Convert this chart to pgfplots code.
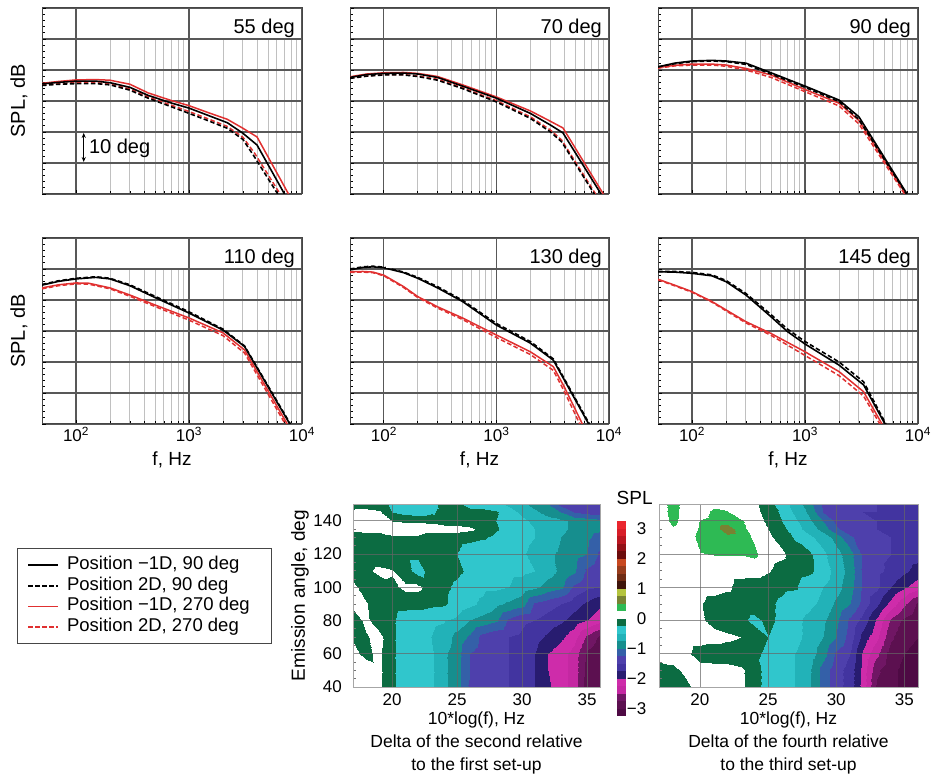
\documentclass[border=0pt]{standalone}
\usepackage{fontspec}
\setmainfont{Liberation Sans}
\usepackage{pgfplots}
\pgfplotsset{compat=1.18}
\usetikzlibrary{arrows.meta}

\definecolor{gridmajor}{RGB}{88,88,88}
\definecolor{gridminor}{RGB}{192,192,192}
\definecolor{framecol}{RGB}{70,70,70}
\definecolor{lred}{RGB}{224,48,48}

\newcommand\tickfont{\fontsize{17}{19}\selectfont}
\newcommand\labfont{\fontsize{19}{21}\selectfont}
\newcommand\ttlfont{\fontsize{20}{22}\selectfont}

% discrete SPL-difference colour scale: 26 bands of 0.25 dB from -3.25 to 3.25
\pgfplotsset{
  colormap={spl}{
    rgb255=(78,10,68) rgb255=(92,16,80) rgb255=(112,22,100) rgb255=(196,40,162)
    rgb255=(206,44,170) rgb255=(40,28,112) rgb255=(66,52,160) rgb255=(78,64,172)
    rgb255=(52,96,168) rgb255=(22,142,142) rgb255=(34,178,184) rgb255=(48,198,204)
    rgb255=(12,108,66) rgb255=(255,255,255) rgb255=(46,186,84) rgb255=(120,130,50)
    rgb255=(180,196,62) rgb255=(62,20,10) rgb255=(112,44,20) rgb255=(152,60,28)
    rgb255=(200,72,32) rgb255=(108,12,12) rgb255=(146,16,22) rgb255=(186,22,32)
    rgb255=(216,30,40) rgb255=(234,38,46)
  },
}

\pgfplotsset{
  bs/.style={black, line width=1.6pt, line join=round},
  bd/.style={black, line width=1.6pt, dash pattern=on 4.5pt off 2.5pt},
  rs/.style={lred, line width=1.5pt, line join=round},
  rd/.style={lred, line width=1.5pt, dash pattern=on 4.5pt off 2.5pt},
  splpanel/.style={
    scale only axis, width=260pt, height=186pt, anchor=north west,
    xmin=50, xmax=10000, ymin=0, ymax=60,
    xtick={100,1000,10000}, xticklabels={},
    ytick={0,10,...,60}, yticklabels={},
    minor y tick num=4,
    xmajorgrids=true, xminorgrids=true, ymajorgrids=true,
    major grid style={draw=gridmajor, line width=1.1pt},
    minor grid style={draw=gridminor, line width=0.9pt},
    axis line style={draw=framecol, line width=1pt},
    tick align=inside, tick pos=left,
    major tick length=4pt, minor tick length=3pt,
    tick style={draw=black, line width=0.8pt},
    tick label style={font=\tickfont},
    label style={font=\labfont},
  },
  freqlabels/.style={
    xticklabels={10\textsuperscript{2},10\textsuperscript{3},10\textsuperscript{4}},
    xticklabel style={inner sep=0pt, anchor=north, yshift=-3pt},
    xlabel={f, Hz},
    xlabel style={at={(axis description cs:0.5,-0.15)}, anchor=north, inner sep=0pt},
  },
  spllabel/.style={
    ylabel={SPL, dB},
    ylabel style={at={(axis description cs:-0.055,0.5)}, anchor=south, inner sep=0pt, font=\ttlfont},
  },
  contourpanel/.style={
    scale only axis, anchor=north west, height=183pt,
    xmin=17, xmax=36, ymin=40, ymax=150,
    xtick={20,25,30,35}, ytick={40,60,...,140},
    minor y tick num=3,
    grid=major, major grid style={draw=black!60, line width=0.8pt, opacity=0.7},
    axis on top,
    axis line style={draw=black!35, line width=0.8pt},
    tick align=inside, tick pos=left,
    major tick length=0pt, minor tick length=3pt,
    minor tick style={draw=black!55, line width=0.6pt},
    tick label style={font=\tickfont, /pgf/number format/assume math mode=true},
    xticklabel style={inner sep=0pt, anchor=north, yshift=-6pt},
    yticklabel style={inner sep=0pt, anchor=east, xshift=-11pt},
    colormap name=spl, colormap access=piecewise constant,
    point meta min=-3.25, point meta max=3.25,
    xlabel style={at={(axis description cs:0.5,0)}, anchor=north, yshift=-25pt,
      inner sep=0pt, align=center, font=\fontsize{17.5}{23}\selectfont},
  },
}

% hides the fine grid in the label strip and prints the panel angle
\newcommand\panelhead[1]{%
  \fill[white] (axis cs:104,50.25) rectangle (axis cs:9700,59.75);
  \draw[gridmajor, line width=1.1pt] (axis cs:1000,50) -- (axis cs:1000,60);
  \node[anchor=base east, inner sep=0pt, font=\ttlfont] at (rel axis cs:0.973,0.864) {#1};
}

\begin{document}
\begin{tikzpicture}
\useasboundingbox (0pt,0pt) rectangle (932pt,781pt);

% ---------------- 55 deg ----------------
\begin{axis}[xmode=log, splpanel, at={(42pt,773pt)}, spllabel]
\addplot[rd] coordinates {(50,35.2) (70,35.6) (100,35.9) (150,35.9) (200,35.5) (300,33.9) (435,31.3) (690,28.7) (1000,26.6) (1440,24.4) (2180,21.8) (3000,18.3) (3800,13.2) (6400,0)};
\addplot[rs] coordinates {(50,35.7) (70,36.3) (100,36.8) (150,36.9) (200,36.7) (300,35.4) (435,32.6) (690,30.2) (1000,28.5) (1440,26.4) (2180,24.1) (3000,21.2) (4000,18.4) (7600,0)};
\addplot[bd] coordinates {(50,35.0) (70,35.4) (100,35.6) (150,35.6) (200,35.2) (300,33.5) (435,30.9) (690,28.2) (1000,26.0) (1440,23.8) (2180,21.2) (3000,17.6) (3700,12.6) (6100,0)};
\addplot[bs] coordinates {(50,35.5) (70,36.0) (100,36.4) (150,36.4) (200,35.9) (300,34.4) (435,31.8) (690,29.4) (1000,27.7) (1440,25.5) (2180,23.0) (3000,19.6) (4000,15.8) (7000,0)};
\panelhead{55 deg}
\draw[{Stealth[length=5pt,width=4pt]}-{Stealth[length=5pt,width=4pt]}, line width=1pt] (axis cs:117,10.3) -- (axis cs:117,19.7);
\node[anchor=west, inner sep=0pt, font=\ttlfont] at (axis cs:130,14.6) {10 deg};
\end{axis}

% ---------------- 70 deg ----------------
\begin{axis}[xmode=log, splpanel, at={(350pt,773pt)}, width=259pt]
\addplot[rd] coordinates {(50,37.4) (70,38.1) (100,38.5) (150,38.5) (200,38.1) (300,37.0) (500,34.3) (1000,30.1) (2000,24.9) (3000,20.7) (3800,17.4) (7600,0)};
\addplot[rs] coordinates {(50,37.8) (70,38.7) (100,39.1) (150,39.2) (200,38.9) (300,37.9) (500,35.2) (1000,31.3) (2000,26.8) (3000,23.5) (3900,21.3) (8900,0)};
\addplot[bd] coordinates {(50,37.3) (70,38.0) (100,38.4) (150,38.4) (200,37.9) (300,36.7) (500,34.0) (1000,29.7) (2000,24.4) (3000,20.1) (3800,16.8) (7400,0)};
\addplot[bs] coordinates {(50,37.6) (70,38.5) (100,38.9) (150,39.0) (200,38.7) (300,37.6) (500,34.8) (1000,30.9) (2000,26.0) (3000,22.3) (3900,19.7) (8500,0)};
\panelhead{70 deg}
\end{axis}

% ---------------- 90 deg ----------------
\begin{axis}[xmode=log, splpanel, at={(658pt,773pt)}]
\addplot[rd] coordinates {(50,40.6) (70,41.3) (100,41.6) (150,41.6) (200,41.2) (300,40.0) (500,37.6) (1000,33.0) (2000,28.4) (3000,22.6) (7600,0)};
\addplot[rs] coordinates {(50,40.8) (70,41.5) (100,41.9) (150,41.9) (200,41.6) (300,40.5) (500,38.4) (1000,33.7) (2000,29.3) (3000,23.7) (7800,0)};
\addplot[bd] coordinates {(50,41.0) (70,42.0) (100,42.7) (150,42.9) (200,42.7) (300,41.8) (500,38.7) (1000,34.4) (2000,29.8) (3000,24.0) (7900,0)};
\addplot[bs] coordinates {(50,41.0) (70,42.2) (100,42.9) (150,43.1) (200,42.9) (300,42.2) (500,39.1) (1000,34.8) (2000,30.3) (3000,24.9) (8000,0)};
\panelhead{90 deg}
\end{axis}

% ---------------- 110 deg ----------------
\begin{axis}[xmode=log, splpanel, at={(42pt,543pt)}, spllabel, freqlabels,
  legend cell align=left,
  legend image code/.code={\draw[#1] (0pt,0pt) -- (30pt,0pt); \path (38pt,0pt);},
  legend style={at={(axis description cs:-0.0962,-0.6667)}, anchor=north west,
    draw=framecol, line width=1pt, fill=white,
    font=\fontsize{18.5}{20}\selectfont,
    inner xsep=10pt, inner ysep=8pt, row sep=3.7pt,
    nodes={inner sep=0pt, text height=13pt, text depth=4pt, anchor=west}}]
\addlegendimage{bs}\addlegendentry{\makebox[194pt][l]{Position −1D, 90 deg}}
\addlegendimage{bd}\addlegendentry{\makebox[194pt][l]{Position 2D, 90 deg}}
\addlegendimage{rs}\addlegendentry{\makebox[194pt][l]{Position −1D, 270 deg}}
\addlegendimage{rd}\addlegendentry{\makebox[194pt][l]{Position 2D, 270 deg}}
\addplot[rd, forget plot] coordinates {(50,43.6) (70,44.6) (100,45.2) (130,45.1) (200,43.6) (300,41.2) (500,37.9) (1000,33.5) (2000,28.5) (3100,22.9) (7100,0)};
\addplot[rs, forget plot] coordinates {(50,43.9) (70,44.9) (100,45.5) (130,45.4) (200,43.9) (300,41.6) (500,38.4) (1000,34.2) (2000,29.4) (3100,23.9) (7400,0)};
\addplot[bd, forget plot] coordinates {(50,45.0) (70,46.2) (100,47.0) (150,47.5) (200,47.0) (300,44.9) (500,41.2) (1000,36.2) (2000,30.6) (3100,25.2) (7900,0)};
\addplot[bs, forget plot] coordinates {(50,44.8) (70,46.0) (100,46.8) (150,47.3) (200,46.8) (300,44.6) (500,40.8) (1000,35.8) (2000,30.3) (3100,25.0) (7800,0)};
\panelhead{110 deg}
\end{axis}

% ---------------- 130 deg ----------------
\begin{axis}[xmode=log, splpanel, at={(350pt,543pt)}, width=259pt, freqlabels]
\addplot[rd] coordinates {(50,48.9) (65,49.0) (80,48.8) (100,47.8) (150,44.0) (200,40.8) (300,37.4) (500,33.7) (1000,27.9) (2000,22.4) (3200,17.3) (4000,10.6) (5500,0)};
\addplot[rs] coordinates {(50,49.1) (65,49.2) (80,49.0) (100,48.0) (150,44.3) (200,41.1) (300,37.8) (500,34.2) (1000,28.7) (2000,23.3) (3200,18.5) (4000,12.0) (5800,0)};
\addplot[bd] coordinates {(50,50.0) (65,50.7) (80,50.9) (100,50.6) (150,49.0) (200,47.3) (300,44.3) (500,39.9) (1000,32.4) (2000,26.6) (3200,21.0) (6700,0)};
\addplot[bs] coordinates {(50,49.7) (65,50.5) (80,50.7) (100,50.4) (150,48.8) (200,47.0) (300,43.9) (500,39.5) (1000,31.9) (2000,26.1) (3200,20.6) (6600,0)};
\panelhead{130 deg}
\end{axis}

% ---------------- 145 deg ----------------
\begin{axis}[xmode=log, splpanel, at={(658pt,543pt)}, freqlabels]
\addplot[rd] coordinates {(50,46.5) (70,44.6) (100,42.5) (150,39.3) (200,36.5) (300,32.6) (500,28.6) (1000,22.1) (2000,15.6) (3300,9.0) (4600,0)};
\addplot[rs] coordinates {(50,46.7) (70,44.8) (100,42.7) (150,39.5) (200,36.8) (300,33.0) (500,29.2) (1000,23.3) (2000,16.9) (3300,10.4) (4800,0)};
\addplot[bd] coordinates {(50,49.2) (70,49.2) (100,48.9) (150,48.1) (200,46.3) (300,42.1) (500,35.3) (700,30.6) (1000,26.6) (2000,20.0) (3300,13.6) (5200,0)};
\addplot[bs] coordinates {(50,49.1) (70,49.0) (100,48.6) (150,47.8) (200,45.9) (300,41.6) (500,34.6) (700,29.8) (1000,25.8) (2000,19.0) (3300,12.6) (5100,0)};
\panelhead{145 deg}
\end{axis}

% ---------------- delta maps ----------------
\begin{axis}[contourpanel, at={(353pt,277pt)}, width=247pt,
  ylabel={Emission angle, deg},
  ylabel style={at={(axis description cs:-0.178,0.5)}, anchor=south, inner sep=0pt, font=\labfont},
  xlabel={10*log(f), Hz\\Delta of the second relative\\to the first set-up},
  colorbar,
  colorbar style={
    at={(parent axis.north east)}, anchor=north west,
    xshift=8pt, yshift=-17pt,
    width=10pt, height=195pt,
    ytick={-3,...,3}, yticklabels={−3,−2,−1,0,1,2,3},
    major tick length=0pt, minor tick length=0pt,
    axis line style={draw=none},
    yticklabel style={font=\tickfont, anchor=east, inner sep=0pt, xshift=20pt},
    title={SPL},
    title style={at={(0,1)}, anchor=south west, inner sep=0pt, yshift=10pt, font=\labfont},
  }]
\addplot[surf, shader=interp, mesh/cols=20, point meta=explicit] coordinates {
(17,40)[0.10] (18,40)[0.10] (19,40)[0.05] (20,40)[-0.20] (21,40)[-0.40] (22,40)[-0.45] (23,40)[-0.45] (24,40)[-0.70] (25,40)[-0.90] (26,40)[-1.30] (27,40)[-1.40] (28,40)[-1.45] (29,40)[-1.50] (30,40)[-1.60] (31,40)[-1.75] (32,40)[-1.95] (33,40)[-2.15] (34,40)[-2.35] (35,40)[-2.90] (36,40)[-3.00]
(17,50)[0.10] (18,50)[0.10] (19,50)[0.05] (20,50)[-0.20] (21,50)[-0.40] (22,50)[-0.45] (23,50)[-0.45] (24,50)[-0.70] (25,50)[-0.90] (26,50)[-1.25] (27,50)[-1.40] (28,50)[-1.45] (29,50)[-1.50] (30,50)[-1.60] (31,50)[-1.75] (32,50)[-2.00] (33,50)[-2.15] (34,50)[-2.35] (35,50)[-2.85] (36,50)[-3.00]
(17,60)[0.05] (18,60)[-0.05] (19,60)[0.05] (20,60)[-0.20] (21,60)[-0.40] (22,60)[-0.45] (23,60)[-0.45] (24,60)[-0.70] (25,60)[-0.90] (26,60)[-1.25] (27,60)[-1.40] (28,60)[-1.45] (29,60)[-1.50] (30,60)[-1.60] (31,60)[-1.75] (32,60)[-2.00] (33,60)[-2.15] (34,60)[-2.35] (35,60)[-2.80] (36,60)[-2.95]
(17,70)[-0.02] (18,70)[-0.02] (19,70)[0.08] (20,70)[-0.20] (21,70)[-0.40] (22,70)[-0.45] (23,70)[-0.50] (24,70)[-0.60] (25,70)[-0.85] (26,70)[-1.05] (27,70)[-1.35] (28,70)[-1.45] (29,70)[-1.50] (30,70)[-1.55] (31,70)[-1.65] (32,70)[-1.80] (33,70)[-1.95] (34,70)[-2.15] (35,70)[-2.55] (36,70)[-2.80]
(17,80)[-0.10] (18,80)[0.05] (19,80)[-0.15] (20,80)[-0.20] (21,80)[-0.40] (22,80)[-0.45] (23,80)[-0.45] (24,80)[-0.48] (25,80)[-0.55] (26,80)[-0.75] (27,80)[-0.85] (28,80)[-0.95] (29,80)[-1.30] (30,80)[-1.45] (31,80)[-1.50] (32,80)[-1.60] (33,80)[-1.70] (34,80)[-1.85] (35,80)[-2.00] (36,80)[-2.15]
(17,90)[0.05] (18,90)[0.02] (19,90)[-0.12] (20,90)[-0.15] (21,90)[-0.15] (22,90)[-0.15] (23,90)[-0.20] (24,90)[-0.22] (25,90)[-0.35] (26,90)[-0.45] (27,90)[-0.55] (28,90)[-0.70] (29,90)[-0.80] (30,90)[-0.90] (31,90)[-1.30] (32,90)[-1.40] (33,90)[-1.50] (34,90)[-1.65] (35,90)[-1.80] (36,90)[-1.95]
(17,100)[0.05] (18,100)[-0.10] (19,100)[-0.12] (20,100)[-0.05] (21,100)[0.05] (22,100)[0.05] (23,100)[-0.10] (24,100)[-0.20] (25,100)[-0.30] (26,100)[-0.40] (27,100)[-0.45] (28,100)[-0.45] (29,100)[-0.50] (30,100)[-0.60] (31,100)[-0.70] (32,100)[-0.85] (33,100)[-0.95] (34,100)[-1.30] (35,100)[-1.45] (36,100)[-1.50]
(17,110)[-0.10] (18,110)[-0.05] (19,110)[0.05] (20,110)[0.02] (21,110)[-0.15] (22,110)[-0.35] (23,110)[-0.15] (24,110)[-0.15] (25,110)[-0.20] (26,110)[-0.30] (27,110)[-0.40] (28,110)[-0.45] (29,110)[-0.45] (30,110)[-0.45] (31,110)[-0.50] (32,110)[-0.65] (33,110)[-0.80] (34,110)[-0.95] (35,110)[-1.30] (36,110)[-1.45]
(17,120)[-0.10] (18,120)[-0.12] (19,120)[-0.15] (20,120)[-0.15] (21,120)[-0.20] (22,120)[-0.20] (23,120)[-0.20] (24,120)[-0.20] (25,120)[-0.25] (26,120)[-0.40] (27,120)[-0.45] (28,120)[-0.45] (29,120)[-0.45] (30,120)[-0.48] (31,120)[-0.55] (32,120)[-0.70] (33,120)[-0.80] (34,120)[-0.90] (35,120)[-1.00] (36,120)[-1.30]
(17,130)[-0.10] (18,130)[-0.12] (19,130)[-0.10] (20,130)[-0.03] (21,130)[-0.02] (22,130)[-0.03] (23,130)[-0.10] (24,130)[-0.12] (25,130)[-0.15] (26,130)[-0.18] (27,130)[-0.22] (28,130)[-0.30] (29,130)[-0.42] (30,130)[-0.45] (31,130)[-0.50] (32,130)[-0.60] (33,130)[-0.75] (34,130)[-0.85] (35,130)[-0.95] (36,130)[-1.10]
(17,135)[0.05] (18,135)[0.10] (19,135)[0.08] (20,135)[0.10] (21,135)[0.10] (22,135)[0.10] (23,135)[0.10] (24,135)[0.10] (25,135)[0.10] (26,135)[0.05] (27,135)[-0.10] (28,135)[-0.22] (29,135)[-0.35] (30,135)[-0.45] (31,135)[-0.50] (32,135)[-0.60] (33,135)[-0.70] (34,135)[-0.80] (35,135)[-0.90] (36,135)[-0.95]
(17,140)[0.08] (18,140)[0.10] (19,140)[0.08] (20,140)[0.00] (21,140)[-0.02] (22,140)[-0.02] (23,140)[-0.05] (24,140)[-0.10] (25,140)[-0.12] (26,140)[-0.15] (27,140)[-0.18] (28,140)[-0.25] (29,140)[-0.40] (30,140)[-0.45] (31,140)[-0.55] (32,140)[-0.65] (33,140)[-0.70] (34,140)[-0.80] (35,140)[-0.85] (36,140)[-0.90]
(17,145)[0.05] (18,145)[0.10] (19,145)[0.05] (20,145)[-0.25] (21,145)[-0.35] (22,145)[-0.40] (23,145)[-0.30] (24,145)[-0.15] (25,145)[-0.12] (26,145)[-0.15] (27,145)[-0.15] (28,145)[-0.22] (29,145)[-0.40] (30,145)[-0.55] (31,145)[-0.70] (32,145)[-0.85] (33,145)[-1.00] (34,145)[-1.25] (35,145)[-1.35] (36,145)[-1.40]
(17,150)[-0.10] (18,150)[-0.15] (19,150)[-0.15] (20,150)[-0.30] (21,150)[-0.45] (22,150)[-0.45] (23,150)[-0.35] (24,150)[-0.15] (25,150)[-0.20] (26,150)[-0.35] (27,150)[-0.40] (28,150)[-0.45] (29,150)[-0.55] (30,150)[-0.70] (31,150)[-0.85] (32,150)[-1.00] (33,150)[-1.35] (34,150)[-1.45] (35,150)[-1.50] (36,150)[-1.50]
};
\end{axis}

\begin{axis}[contourpanel, at={(659pt,277pt)}, width=259pt,
  yticklabels={},
  xlabel={10*log(f), Hz\\Delta of the fourth relative\\to the third set-up}]
\addplot[surf, shader=interp, mesh/cols=20, point meta=explicit] coordinates {
(17,40)[-0.15] (18,40)[-0.15] (19,40)[-0.05] (20,40)[0.10] (21,40)[0.10] (22,40)[0.10] (23,40)[0.05] (24,40)[-0.15] (25,40)[-0.35] (26,40)[-0.45] (27,40)[-0.50] (28,40)[-0.70] (29,40)[-1.10] (30,40)[-1.40] (31,40)[-1.60] (32,40)[-2.10] (33,40)[-2.80] (34,40)[-2.95] (35,40)[-3.05] (36,40)[-3.05]
(17,50)[-0.10] (18,50)[-0.05] (19,50)[0.05] (20,50)[0.10] (21,50)[0.10] (22,50)[0.10] (23,50)[0.05] (24,50)[-0.15] (25,50)[-0.35] (26,50)[-0.45] (27,50)[-0.50] (28,50)[-0.70] (29,50)[-1.10] (30,50)[-1.40] (31,50)[-1.60] (32,50)[-2.10] (33,50)[-2.70] (34,50)[-2.95] (35,50)[-3.05] (36,50)[-3.05]
(17,60)[0.10] (18,60)[0.10] (19,60)[0.05] (20,60)[-0.10] (21,60)[-0.15] (22,60)[-0.15] (23,60)[-0.15] (24,60)[-0.20] (25,60)[-0.30] (26,60)[-0.40] (27,60)[-0.50] (28,60)[-0.60] (29,60)[-0.90] (30,60)[-1.30] (31,60)[-1.50] (32,60)[-2.05] (33,60)[-2.45] (34,60)[-2.90] (35,60)[-3.00] (36,60)[-3.05]
(17,70)[0.10] (18,70)[0.10] (19,70)[0.10] (20,70)[0.10] (21,70)[0.10] (22,70)[0.05] (23,70)[0.00] (24,70)[-0.15] (25,70)[-0.25] (26,70)[-0.35] (27,70)[-0.45] (28,70)[-0.55] (29,70)[-0.75] (30,70)[-1.00] (31,70)[-1.35] (32,70)[-1.85] (33,70)[-2.20] (34,70)[-2.70] (35,70)[-2.95] (36,70)[-3.00]
(17,80)[0.10] (18,80)[0.10] (19,80)[0.10] (20,80)[0.05] (21,80)[-0.10] (22,80)[-0.15] (23,80)[-0.20] (24,80)[-0.30] (25,80)[-0.20] (26,80)[-0.30] (27,80)[-0.45] (28,80)[-0.55] (29,80)[-0.70] (30,80)[-0.95] (31,80)[-1.30] (32,80)[-1.60] (33,80)[-2.05] (34,80)[-2.55] (35,80)[-2.80] (36,80)[-2.95]
(17,90)[0.10] (18,90)[0.10] (19,90)[0.10] (20,90)[0.02] (21,90)[-0.10] (22,90)[-0.15] (23,90)[-0.15] (24,90)[-0.15] (25,90)[-0.20] (26,90)[-0.30] (27,90)[-0.40] (28,90)[-0.45] (29,90)[-0.55] (30,90)[-0.80] (31,90)[-1.00] (32,90)[-1.35] (33,90)[-1.70] (34,90)[-2.10] (35,90)[-2.45] (36,90)[-2.80]
(17,100)[0.10] (18,100)[0.10] (19,100)[0.10] (20,100)[0.10] (21,100)[0.10] (22,100)[0.05] (23,100)[-0.10] (24,100)[-0.15] (25,100)[-0.15] (26,100)[-0.20] (27,100)[-0.22] (28,100)[-0.40] (29,100)[-0.50] (30,100)[-0.65] (31,100)[-0.90] (32,100)[-1.30] (33,100)[-1.45] (34,100)[-1.75] (35,100)[-1.95] (36,100)[-2.15]
(17,110)[0.10] (18,110)[0.10] (19,110)[0.10] (20,110)[0.10] (21,110)[0.10] (22,110)[0.10] (23,110)[0.10] (24,110)[0.10] (25,110)[0.02] (26,110)[-0.10] (27,110)[-0.15] (28,110)[-0.20] (29,110)[-0.35] (30,110)[-0.60] (31,110)[-0.85] (32,110)[-1.30] (33,110)[-1.45] (34,110)[-1.55] (35,110)[-1.70] (36,110)[-1.85]
(17,120)[0.10] (18,120)[0.10] (19,120)[0.10] (20,120)[0.24] (21,120)[0.26] (22,120)[0.26] (23,120)[0.26] (24,120)[0.30] (25,120)[0.10] (26,120)[0.05] (27,120)[-0.15] (28,120)[-0.20] (29,120)[-0.45] (30,120)[-0.65] (31,120)[-0.90] (32,120)[-1.30] (33,120)[-1.45] (34,120)[-1.50] (35,120)[-1.60] (36,120)[-1.65]
(17,130)[0.10] (18,130)[0.10] (19,130)[0.10] (20,130)[0.33] (21,130)[0.36] (22,130)[0.38] (23,130)[0.34] (24,130)[0.22] (25,130)[0.05] (26,130)[-0.10] (27,130)[-0.28] (28,130)[-0.45] (29,130)[-0.60] (30,130)[-0.85] (31,130)[-1.20] (32,130)[-1.40] (33,130)[-1.45] (34,130)[-1.50] (35,130)[-1.55] (36,130)[-1.60]
(17,135)[0.10] (18,135)[0.22] (19,135)[0.10] (20,135)[0.28] (21,135)[0.34] (22,135)[0.72] (23,135)[0.32] (24,135)[0.15] (25,135)[0.00] (26,135)[-0.18] (27,135)[-0.40] (28,135)[-0.60] (29,135)[-0.85] (30,135)[-1.20] (31,135)[-1.40] (32,135)[-1.45] (33,135)[-1.50] (34,135)[-1.55] (35,135)[-1.55] (36,135)[-1.55]
(17,140)[0.10] (18,140)[0.32] (19,140)[0.10] (20,140)[0.26] (21,140)[0.33] (22,140)[0.35] (23,140)[0.28] (24,140)[0.12] (25,140)[-0.05] (26,140)[-0.25] (27,140)[-0.45] (28,140)[-0.70] (29,140)[-1.00] (30,140)[-1.30] (31,140)[-1.40] (32,140)[-1.45] (33,140)[-1.50] (34,140)[-1.55] (35,140)[-1.50] (36,140)[-1.50]
(17,145)[0.10] (18,145)[0.36] (19,145)[0.10] (20,145)[0.15] (21,145)[0.30] (22,145)[0.27] (23,145)[0.12] (24,145)[0.08] (25,145)[-0.10] (26,145)[-0.30] (27,145)[-0.55] (28,145)[-0.80] (29,145)[-1.25] (30,145)[-1.40] (31,145)[-1.45] (32,145)[-1.50] (33,145)[-1.50] (34,145)[-1.55] (35,145)[-1.55] (36,145)[-1.50]
(17,150)[0.10] (18,150)[0.38] (19,150)[0.10] (20,150)[0.10] (21,150)[0.20] (22,150)[0.15] (23,150)[0.10] (24,150)[0.05] (25,150)[-0.15] (26,150)[-0.40] (27,150)[-0.60] (28,150)[-0.90] (29,150)[-1.30] (30,150)[-1.40] (31,150)[-1.45] (32,150)[-1.45] (33,150)[-1.50] (34,150)[-1.50] (35,150)[-1.50] (36,150)[-1.50]
};
\end{axis}
\end{tikzpicture}
\end{document}
